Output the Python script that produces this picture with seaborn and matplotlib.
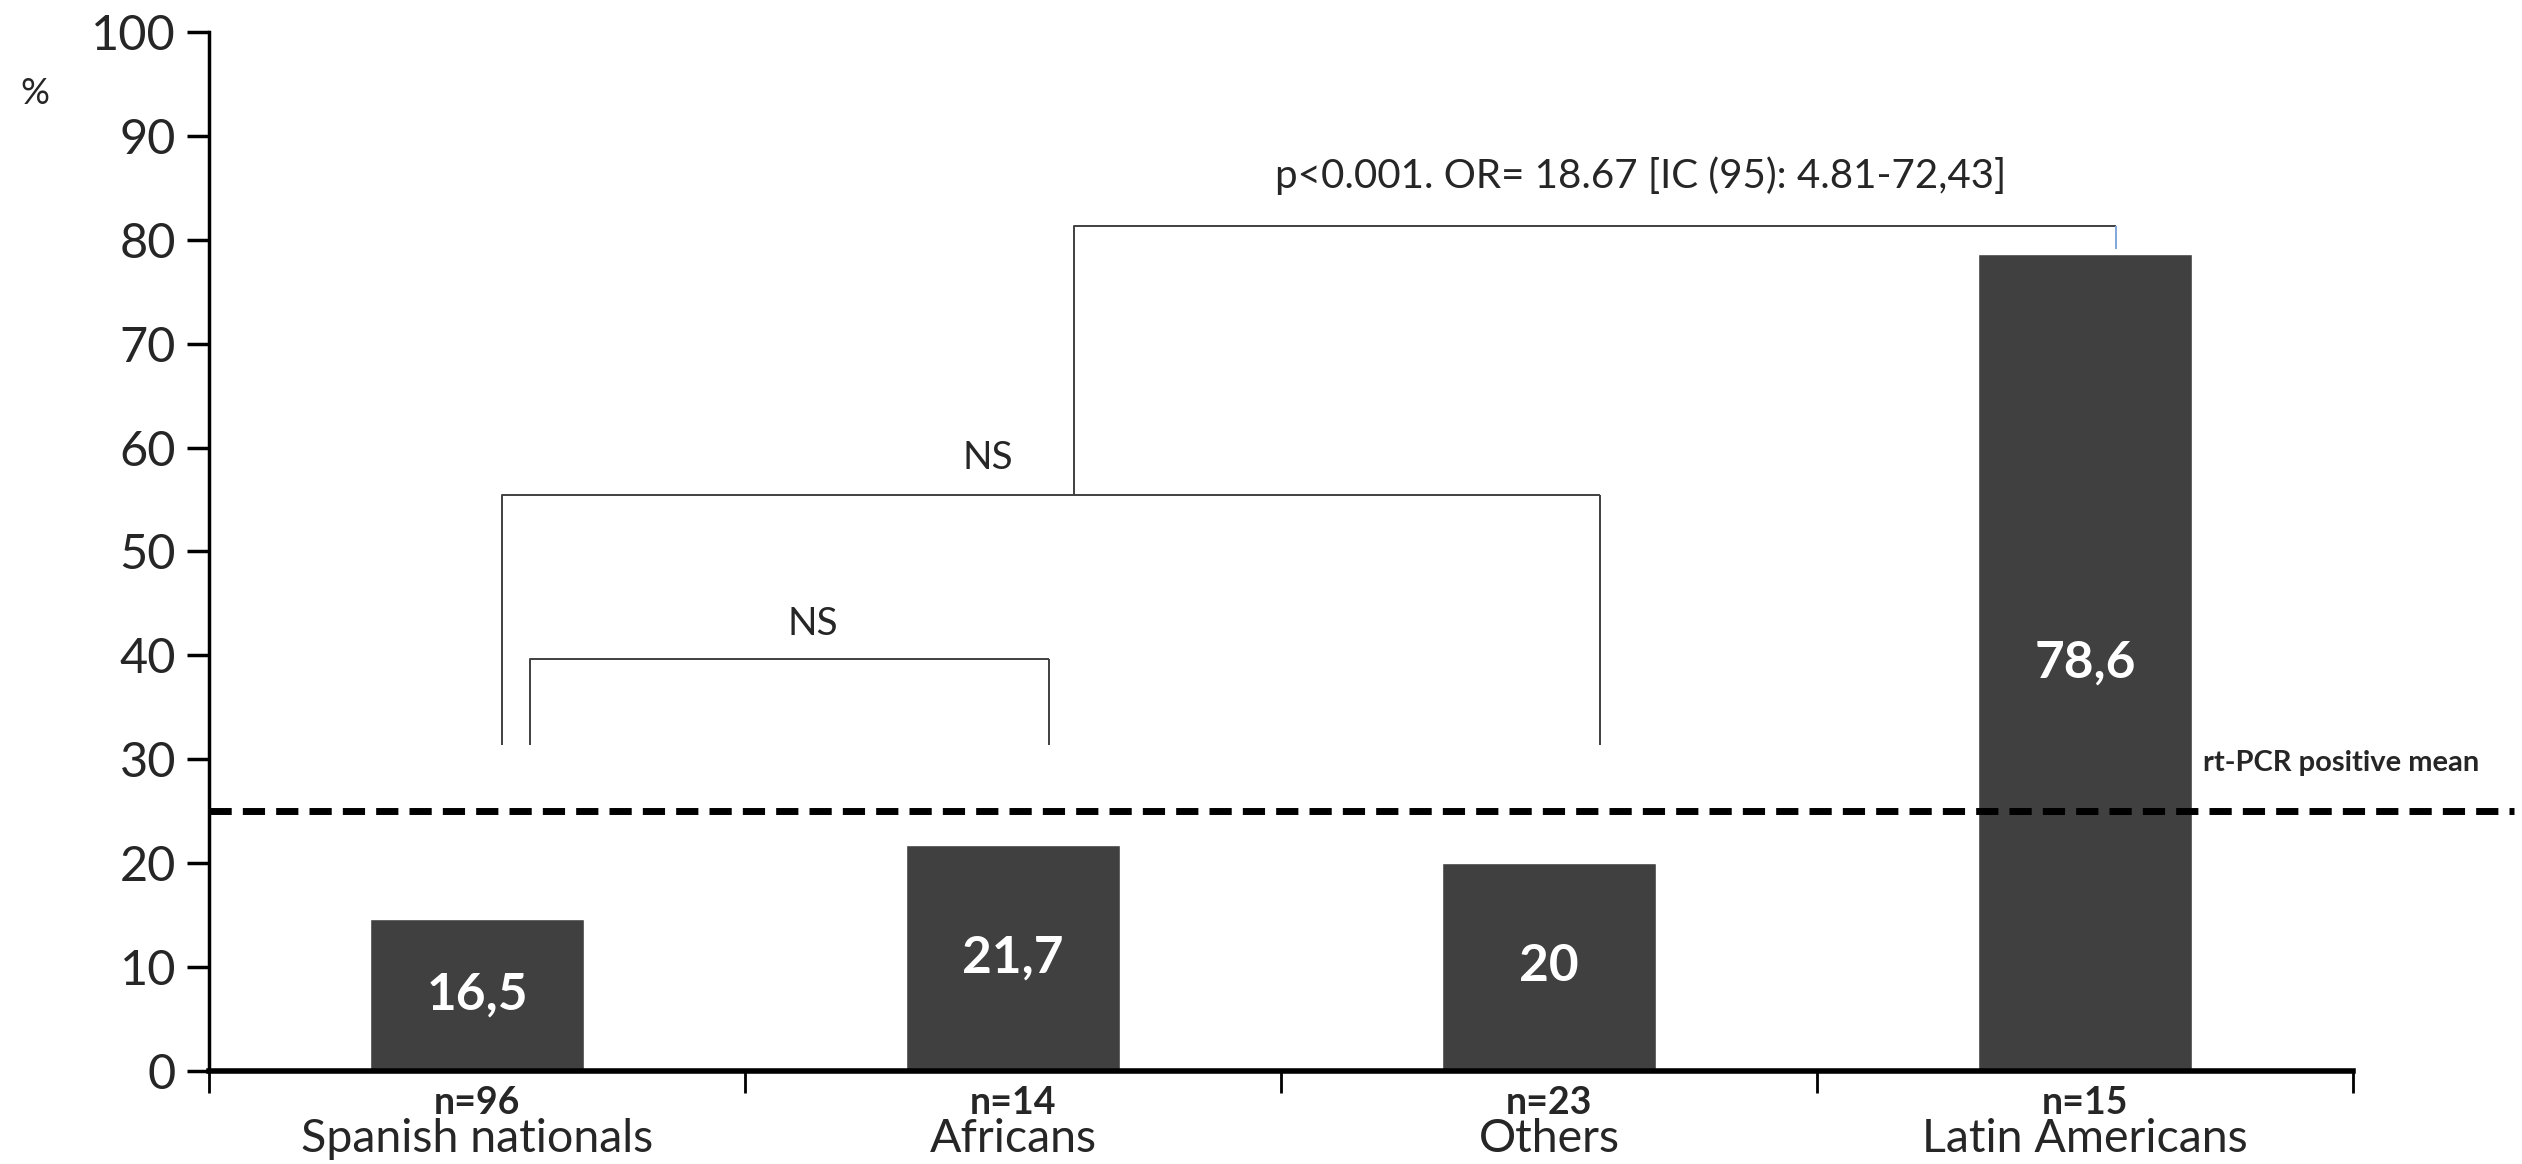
import pandas as pd
import matplotlib.pyplot as plt
import seaborn as sns

# data
categories = ["Spanish nationals", "Africans", "Others", "Latin Americans"]
sample_sizes = ["n=96", "n=14", "n=23", "n=15"]
values = [14.6, 21.7, 20.0, 78.6]           # bar heights as drawn
value_labels = ["16,5", "21,7", "20", "78,6"]  # labels printed in bars
mean_positive = 25
y_ticks = list(range(0, 101, 10))

BAR_COLOR = "#404040"
LINE_COLOR = "#404040"


def draw_bracket(ax, x0, x1, y_left, y_right, top, color=LINE_COLOR, right_color=None):
    ax.plot([x0, x0, x1], [y_left, top, top], color=color, lw=1.4,
            solid_capstyle="butt", clip_on=False)
    ax.plot([x1, x1], [top, y_right], color=right_color or color, lw=1.4,
            solid_capstyle="butt", clip_on=False)


if __name__ == '__main__':
    sns.set_theme(style="white")
    plt.rcParams['font.family'] = ['Lato', 'DejaVu Sans']

    df = pd.DataFrame({"group": categories, "pct": values})

    fig = plt.figure(figsize=(25.22, 11.64), dpi=100)
    ax = fig.add_axes([0.083, 0.080, 0.850, 0.8925])

    sns.barplot(data=df, x="group", y="pct", color=BAR_COLOR, width=0.4,
                saturation=1, ax=ax)

    ax.set_xlim(-0.5, 3.5)
    ax.set_ylim(0, 100)
    ax.set_yticks(y_ticks)
    ax.tick_params(axis="y", labelsize=35, length=16, width=2.5, direction="out",
                   color="black", pad=8, left=True)
    ax.set_xlabel("")
    ax.set_ylabel("")

    # x ticks at category boundaries, labels drawn as text
    ax.set_xticks([-0.5, 0.5, 1.5, 2.5, 3.5])
    ax.set_xticklabels([])
    ax.tick_params(axis="x", length=16, width=2, direction="out", color="black",
                   bottom=True)

    sns.despine(ax=ax, top=True, right=True)
    ax.spines["left"].set_linewidth(2.5)
    ax.spines["left"].set_color("black")
    ax.spines["bottom"].set_linewidth(4)
    ax.spines["bottom"].set_color("black")

    xt = ax.get_xaxis_transform()
    for i, (name, n) in enumerate(zip(categories, sample_sizes)):
        ax.text(i, -0.031, n, transform=xt, ha="center", va="center",
                fontsize=27, fontweight="bold")
        ax.text(i, -0.066, name, transform=xt, ha="center", va="center",
                fontsize=33.5)

    # value labels inside bars
    for i, (v, lab) in enumerate(zip(values, value_labels)):
        ax.text(i, v / 2, lab, ha="center", va="center", color="white",
                fontsize=37, fontweight="bold")

    # mean line
    ax.plot([-0.5, 3.8], [mean_positive, mean_positive], color="black", lw=5,
            ls=(0, (3.2, 1.6)), clip_on=False, zorder=5)
    ax.text(3.22, 29.6, "rt-PCR positive mean", ha="left", va="center",
            fontsize=21, fontweight="bold", clip_on=False)

    # significance brackets
    draw_bracket(ax, 0.098, 1.067, 31.4, 31.4, 39.6)
    ax.text(0.626, 41.3, "NS", ha="center", va="bottom", fontsize=28)
    draw_bracket(ax, 0.047, 2.095, 31.4, 31.4, 55.4)
    ax.text(0.953, 57.3, "NS", ha="center", va="bottom", fontsize=28)
    draw_bracket(ax, 1.113, 3.058, 55.4, 79.1, 81.3, right_color="#7FA7D9")
    ax.text(2.17, 84.3, "p<0.001. OR= 18.67 [IC (95): 4.81-72,43]",
            ha="center", va="bottom", fontsize=29)

    fig.text(0.014, 0.92, "%", ha="center", va="center", fontsize=26)

    fig.savefig("out.png", dpi=100, facecolor="white")
